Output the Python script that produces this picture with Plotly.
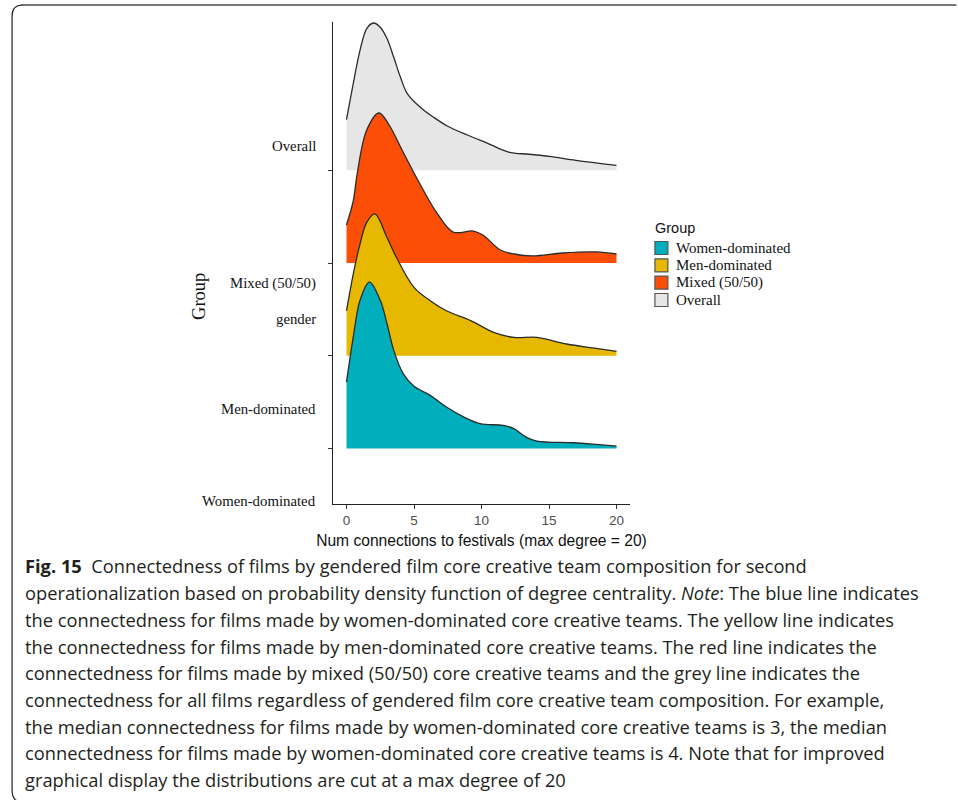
import plotly.graph_objects as go

# ---------------- data ----------------
groups = ["Women-dominated", "Men-dominated", "Mixed (50/50)", "Overall"]
colors = ["#00AFBB", "#E7B800", "#FC4E07", "#E6E6E6"]

x_overall = [0, 0.5, 1.0, 1.5, 2.0, 2.5, 3.0, 3.5, 4.0, 4.5, 5.5, 6.5, 7.5, 9.0, 10.5, 12.0, 13.5, 15.0, 17.0, 20.0]
d_overall = [0.547, 0.935, 1.294, 1.529, 1.589, 1.543, 1.421, 1.219, 1.003, 0.827, 0.676, 0.568, 0.475, 0.378, 0.288, 0.197, 0.173, 0.151, 0.108, 0.054]

x_mixed = [0, 0.5, 0.8, 1.5, 2.4, 3.2, 4.0, 5.0, 6.1, 6.7, 7.9, 9.4, 10.1, 11.4, 12.4, 13.8, 16.0, 18.5, 20.0]
d_mixed = [0.41, 0.669, 0.971, 1.435, 1.618, 1.478, 1.251, 0.971, 0.68, 0.539, 0.334, 0.345, 0.302, 0.14, 0.097, 0.076, 0.108, 0.119, 0.097]

x_men = [0, 0.5, 1.0, 1.5, 2.1, 3.0, 3.7, 5.0, 6.2, 7.4, 9.2, 10.9, 12.4, 14.1, 16.3, 18.5, 20.0]
d_men = [0.485, 0.881, 1.205, 1.438, 1.529, 1.276, 1.06, 0.737, 0.593, 0.485, 0.378, 0.251, 0.197, 0.197, 0.126, 0.079, 0.046]

x_women = [0, 0.5, 1.0, 1.7, 2.5, 3.0, 3.5, 4.2, 5.0, 6.2, 7.4, 8.7, 9.9, 11.6, 12.4, 13.3, 14.1, 16.8, 18.5, 20.0]
d_women = [0.715, 1.201, 1.597, 1.794, 1.597, 1.345, 1.057, 0.806, 0.669, 0.572, 0.446, 0.338, 0.266, 0.248, 0.213, 0.122, 0.079, 0.061, 0.043, 0.025]

x_ticks = [0, 5, 10, 15, 20]
y_label_texts = ["Overall", "Mixed (50/50)", "gender", "Men-dominated", "Women-dominated"]

caption_lines = [
    "<b>Fig. 15</b>\u00a0\u00a0Connectedness of films by gendered film core creative team composition for second",
    "operationalization based on probability density function of degree centrality. <i>Note</i>: The blue line indicates",
    "the connectedness for films made by women-dominated core creative teams. The yellow line indicates",
    "the connectedness for films made by men-dominated core creative teams. The red line indicates the",
    "connectedness for films made by mixed (50/50) core creative teams and the grey line indicates the",
    "connectedness for all films regardless of gendered film core creative team composition. For example,",
    "the median connectedness for films made by women-dominated core creative teams is 3, the median",
    "connectedness for films made by women-dominated core creative teams is 4. Note that for improved",
    "graphical display the distributions are cut at a max degree of 20",
]

# ---------------- layout geometry ----------------
W, H = 958, 800
L, R, T, B = 332.5, 958 - 630.5, 22, 800 - 504
PW, PH = W - L - R, H - T - B


def px(xp):
    return (xp - L) / PW


def py(yp):
    return (H - B - yp) / PH


series = {
    "Overall": (x_overall, d_overall, 3),
    "Mixed (50/50)": (x_mixed, d_mixed, 2),
    "Men-dominated": (x_men, d_men, 1),
    "Women-dominated": (x_women, d_women, 0),
}
color_of = dict(zip(groups, colors))

fig = go.Figure()
for name in ["Overall", "Mixed (50/50)", "Men-dominated", "Women-dominated"]:
    xs, ds, base = series[name]
    fig.add_trace(go.Scatter(x=[xs[0], xs[-1]], y=[base, base], mode="lines",
                             line=dict(width=0, color=color_of[name]),
                             showlegend=False, hoverinfo="skip"))
    fig.add_trace(go.Scatter(x=xs, y=[base + d for d in ds], mode="lines",
                             line=dict(color="#2b2b2b", width=1.3, shape="spline", smoothing=1.0),
                             fill="tonexty", fillcolor=color_of[name],
                             showlegend=False, name=name))

annotations = []
shapes = []

# y group labels (as drawn in the original, slightly offset from the ticks)
label_pos = [(146, 0), (283, 1), (319, 2), (409, 3), (501, 4)]
for yp, i in label_pos:
    annotations.append(dict(xref="paper", yref="paper", x=px(317), y=py(yp), xanchor="right", yanchor="middle",
                            text=y_label_texts[i], showarrow=False,
                            font=dict(family="Liberation Serif", size=14.8, color="#111111")))
annotations.append(dict(xref="paper", yref="paper", x=px(198), y=py(296), xanchor="center", yanchor="middle",
                        text="Group", textangle=-90, showarrow=False,
                        font=dict(family="Liberation Serif", size=18.5, color="#111111")))

# legend (ggplot-style keys)
annotations.append(dict(xref="paper", yref="paper", x=px(654), y=py(228), xanchor="left", yanchor="middle",
                        text="Group", showarrow=False,
                        font=dict(family="Liberation Sans", size=14.5, color="#111111")))
key_y = [248, 265.3, 282.6, 300]
for name, yc in zip(groups, key_y):
    shapes.append(dict(type="rect", xref="paper", yref="paper",
                       x0=px(655.5), x1=px(668.5), y0=py(yc - 6.5), y1=py(yc + 6.5),
                       fillcolor=color_of[name], line=dict(color="#555555", width=1.2)))
    annotations.append(dict(xref="paper", yref="paper", x=px(675), y=py(yc), xanchor="left", yanchor="middle",
                            text=name, showarrow=False,
                            font=dict(family="Liberation Serif", size=15, color="#111111")))

cap_y = [565, 592, 619, 646, 672, 699, 726, 752, 779]
for line, yp in zip(caption_lines, cap_y):
    annotations.append(dict(xref="paper", yref="paper", x=px(21), y=py(yp), xanchor="left", yanchor="middle",
                            text=line, showarrow=False,
                            font=dict(family="Open Sans", size=18.3, color="#231f20")))

shapes += [
    dict(type="line", xref="paper", yref="paper", x0=px(20), x1=px(958), y0=py(5), y1=py(5),
         line=dict(color="#777777", width=2)),
    dict(type="path", xref="paper", yref="paper",
         path=f"M {px(21)},{py(5)} Q {px(10.5)},{py(5)} {px(10.5)},{py(16)} L {px(10.5)},{py(790)} "
              f"Q {px(10.5)},{py(799)} {px(16)},{py(801)}",
         line=dict(color="#222222", width=1.2)),
]

fig.update_layout(
    width=W, height=H,
    margin=dict(l=L, r=R, t=T, b=B, pad=0),
    paper_bgcolor="white", plot_bgcolor="white",
    annotations=annotations, shapes=shapes,
    showlegend=False,
    xaxis=dict(range=[-1, 21], tickvals=x_ticks, ticks="outside", ticklen=4, tickcolor="#333333",
               showline=True, linecolor="#222222", linewidth=1.2, showgrid=False, zeroline=False,
               tickfont=dict(family="Liberation Sans", size=13.5, color="#4d4d4d"),
               title=dict(text="Num connections to festivals (max degree = 20)", standoff=7,
                          font=dict(family="Liberation Sans", size=15.6, color="#111111"))),
    yaxis=dict(range=[-0.6, 4.6], tickvals=[0, 1, 2, 3], ticks="outside", ticklen=4, tickcolor="#333333",
               showticklabels=False, showline=True, linecolor="#222222", linewidth=1.2,
               showgrid=False, zeroline=False),
)

fig.write_html("out.html", config={"displayModeBar": False},
               post_script="document.body.style.margin='0';")
